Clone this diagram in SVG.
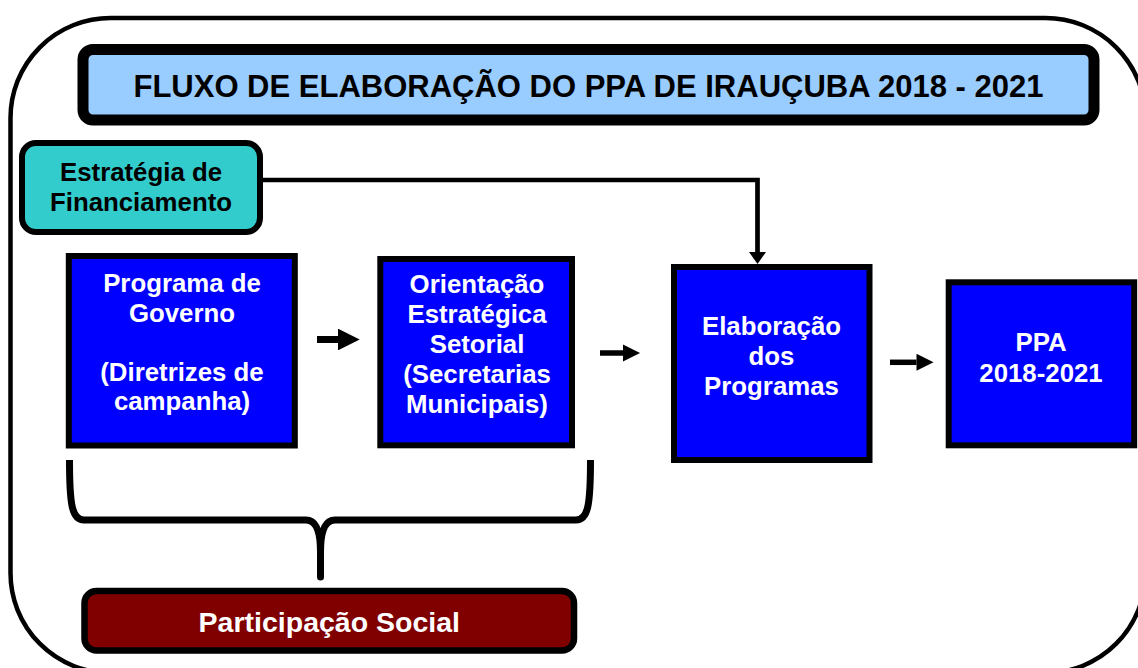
<svg xmlns="http://www.w3.org/2000/svg" width="1138" height="668" viewBox="0 0 1138 668">
<style>
  text { font-family: "Liberation Sans", Arial, sans-serif; font-weight: bold; text-anchor: middle; }
  .box { fill: #0000FF; stroke: #000; stroke-width: 6; }
  .boxtxt { fill: #FFFFFF; font-size: 25.8px; }
  .conn { stroke: #000; fill: none; }
</style>
<defs>
  <marker id="head" viewBox="0 0 10 10" refX="0" refY="5" markerWidth="3.3" markerHeight="3.1" markerUnits="strokeWidth" orient="auto">
    <path d="M0,0 L10,5 L0,10 z" fill="#000"/>
  </marker>
  <marker id="headDown" viewBox="0 0 12 17" refX="0" refY="8.5" markerWidth="12" markerHeight="17" markerUnits="userSpaceOnUse" orient="auto">
    <path d="M0,0 L12,8.5 L0,17 z" fill="#000"/>
  </marker>
</defs>
<rect width="1138" height="668" fill="#FFFFFF"/>
<g id="frame">
  <rect x="10.5" y="18" width="1135" height="655" rx="100" ry="100" fill="none" stroke="#000" stroke-width="4.5"/>
</g>
<g id="title">
  <rect x="83" y="49.5" width="1011" height="70.5" rx="10" ry="10" fill="#99CCFF" stroke="#000" stroke-width="11"/>
  <text x="588.5" y="96.5" font-size="31" fill="#000">FLUXO DE ELABORAÇÃO DO PPA DE IRAUÇUBA 2018 - 2021</text>
</g>
<g id="estrategia">
  <rect x="22" y="143" width="238" height="89" rx="14" ry="14" fill="#33CCCC" stroke="#000" stroke-width="6"/>
  <text x="141" y="181" font-size="25.8" fill="#000">Estratégia de</text>
  <text x="141" y="211" font-size="25.8" fill="#000">Financiamento</text>
</g>
<g id="programa">
  <rect class="box" x="68.8" y="256" width="226" height="189.5" stroke-width="5.5"/>
  <text class="boxtxt" x="182" y="292">Programa de</text>
  <text class="boxtxt" x="182" y="321.5">Governo</text>
  <text class="boxtxt" x="182" y="380.5">(Diretrizes de</text>
  <text class="boxtxt" x="182" y="410">campanha)</text>
</g>
<g id="orientacao">
  <rect class="box" x="380.3" y="259" width="191.7" height="186.3"/>
  <text class="boxtxt" x="477" y="293">Orientação</text>
  <text class="boxtxt" x="477" y="323">Estratégica</text>
  <text class="boxtxt" x="477" y="353">Setorial</text>
  <text class="boxtxt" x="477" y="383">(Secretarias</text>
  <text class="boxtxt" x="477" y="413">Municipais)</text>
</g>
<g id="elaboracao">
  <rect class="box" x="674" y="267" width="195.5" height="193"/>
  <text class="boxtxt" x="771.5" y="335">Elaboração</text>
  <text class="boxtxt" x="771.5" y="365">dos</text>
  <text class="boxtxt" x="771.5" y="395">Programas</text>
</g>
<g id="ppa">
  <rect class="box" x="948.7" y="282.3" width="185.5" height="163"/>
  <text class="boxtxt" x="1041" y="351">PPA</text>
  <text class="boxtxt" x="1041" y="382">2018-2021</text>
</g>
<g id="participacao">
  <rect x="84.5" y="591" width="489.5" height="59.5" rx="12" ry="12" fill="#800000" stroke="#000" stroke-width="6.5"/>
  <text x="329.3" y="632" font-size="28.5" fill="#FFFFFF">Participação Social</text>
</g>
<g id="connectors">
  <line class="conn" x1="317" y1="339.5" x2="338" y2="339.5" stroke-width="7" marker-end="url(#head)"/>
  <line class="conn" x1="600" y1="353" x2="623" y2="353" stroke-width="5.5" marker-end="url(#head)"/>
  <line class="conn" x1="890" y1="362.3" x2="916.5" y2="362.3" stroke-width="5.5" marker-end="url(#head)"/>
  <path class="conn" d="M263,180 H757.5 V252" stroke-width="4.7" marker-end="url(#headDown)"/>
  <path class="conn" stroke-width="7" stroke-linejoin="round" d="M69.5,460 C69.5,505 72,520 84,520 H306 C316,520 320.5,530 320.5,552 M335,520 C325,520 320.5,530 320.5,552 M576,520 H335 M590.5,460 C590.5,505 588,520 576,520"/>
  <path class="conn" stroke-width="7" stroke-linecap="round" d="M320.5,545 V577"/>
</g>
</svg>
